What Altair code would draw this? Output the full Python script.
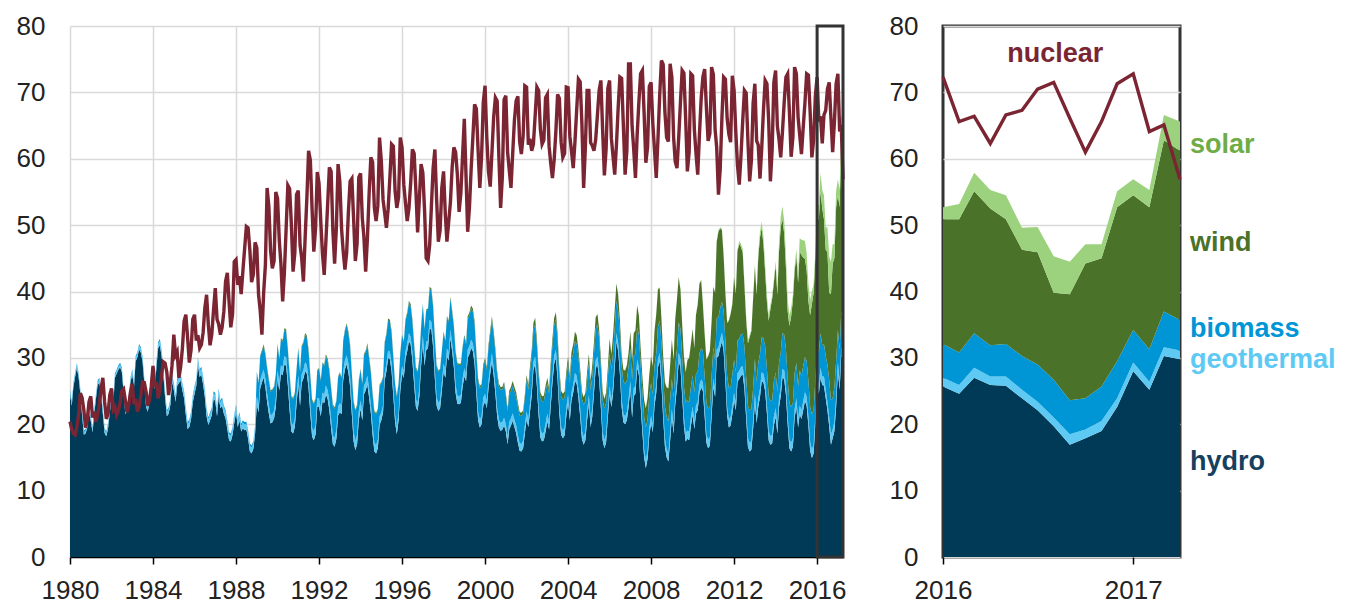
import altair as alt
import pandas as pd

# ---------------- data (monthly, billion kWh) ----------------
years = list(range(1980, 2018))

hydro = [
    [24.5,22.8,25.6,27.2,28.5,27.0,24.6,21.3,18.4,18.6,19.5,21.8],  # 1980
    [20.5,18.8,21.4,23.8,25.9,26.3,24.5,21.6,18.7,18.2,19.4,21.7],
    [23.9,23.1,27.0,27.6,28.2,28.6,27.9,24.8,21.5,22.1,23.8,26.4],
    [27.5,25.6,29.5,30.1,31.3,30.8,29.4,26.2,22.6,21.9,23.5,27.4],
    [27.9,25.3,28.6,31.5,31.9,30.2,27.5,24.0,21.2,21.6,22.9,26.5],
    [25.2,23.4,25.8,26.2,26.6,25.1,23.9,21.4,19.3,19.6,20.8,23.3],  # 1985
    [24.6,25.8,28.9,27.1,27.5,26.0,24.1,21.2,19.9,20.6,21.4,23.8],
    [23.5,21.2,24.2,22.4,22.8,21.6,20.9,19.3,17.6,17.4,18.4,20.2],
    [21.8,19.6,20.6,18.9,19.4,19.1,19.2,17.8,15.9,15.6,16.3,18.5],
    [23.0,21.8,25.4,26.3,27.0,25.6,23.4,21.6,20.1,20.3,20.9,22.6],
    [26.8,25.1,27.6,27.4,29.0,28.8,25.9,22.1,18.9,18.6,19.6,23.0],  # 1990
    [26.0,22.8,26.2,26.9,28.0,27.6,25.4,21.6,18.1,17.6,18.5,22.6],
    [22.6,21.2,23.4,23.2,24.5,23.8,22.1,19.4,17.0,16.6,17.8,21.3],
    [21.8,21.5,26.6,28.3,29.0,27.8,25.7,21.4,17.4,16.1,17.0,20.6],
    [22.3,20.6,24.5,25.1,26.0,24.0,21.7,18.4,15.9,15.6,16.4,19.9],
    [20.6,21.8,26.6,28.0,30.0,29.8,28.0,24.2,20.3,18.5,20.6,25.0],  # 1995
    [27.6,27.0,29.8,31.0,32.5,32.0,29.6,26.0,22.6,22.0,24.2,28.8],
    [32.1,28.8,31.2,31.4,34.5,34.2,31.6,26.8,22.8,22.0,22.4,25.0],
    [27.9,27.0,30.2,29.6,33.0,31.0,28.6,24.7,23.1,23.0,23.2,25.6],
    [27.2,26.5,30.0,30.6,31.5,31.0,29.0,24.6,20.6,19.5,20.0,22.8],
    [23.4,22.4,25.3,27.6,29.5,27.3,24.6,21.2,19.5,19.0,19.2,19.8],  # 2000
    [18.9,17.0,19.2,19.8,20.5,19.6,18.7,17.2,16.0,15.9,16.4,18.6],
    [20.7,19.6,21.8,24.3,28.2,29.0,25.8,21.3,18.0,17.4,17.6,18.9],
    [20.4,19.2,22.6,26.2,29.1,30.0,26.7,21.6,18.4,17.9,18.3,21.2],
    [23.2,20.6,23.6,24.8,26.5,26.1,24.0,21.2,17.8,16.9,17.6,20.6],
    [23.2,19.6,21.1,24.7,28.4,29.0,26.8,22.4,17.6,16.4,17.3,21.0],  # 2005
    [24.5,22.6,24.5,28.4,32.5,31.0,27.6,22.6,20.3,20.0,20.6,22.6],
    [25.3,21.0,24.2,24.6,28.5,27.4,22.9,18.8,15.0,13.4,14.8,18.3],
    [20.1,18.8,22.7,24.7,28.6,29.5,26.1,20.9,16.6,15.0,14.4,17.5],
    [21.0,18.6,22.9,25.6,29.5,28.6,24.3,19.8,17.4,17.8,17.6,19.7],
    [21.4,19.3,21.6,22.1,24.7,25.5,25.0,21.2,17.2,16.4,16.8,21.2],  # 2010
    [25.6,24.1,30.0,30.3,31.5,32.5,31.0,26.5,21.3,19.5,19.8,21.5],
    [23.5,22.1,26.4,26.8,27.3,27.5,25.4,20.8,16.6,15.9,16.2,19.3],
    [23.2,20.2,22.6,24.1,26.5,26.3,25.0,21.6,17.6,16.9,17.1,19.8],
    [21.1,18.6,22.5,24.2,27.0,26.8,24.5,20.0,16.4,15.9,16.6,20.9],
    [22.6,19.5,21.5,20.8,22.1,23.5,22.8,19.8,16.0,14.9,15.6,20.0],  # 2015
    [25.7,24.6,27.0,25.9,25.8,23.9,22.1,19.7,16.9,17.9,19.0,22.6],
    [28.0,25.2,30.3,29.8],                                          # 2017
]

geothermal = [
    [0.42,0.38,0.42,0.41,0.43,0.42,0.44,0.44,0.42,0.43,0.41,0.43],  # 1980
    [0.46,0.41,0.45,0.44,0.46,0.45,0.47,0.47,0.45,0.46,0.44,0.46],
    [0.38,0.35,0.39,0.37,0.40,0.39,0.41,0.41,0.39,0.40,0.38,0.40],
    [0.52,0.47,0.52,0.50,0.53,0.52,0.54,0.54,0.52,0.53,0.51,0.53],
    [0.63,0.58,0.63,0.61,0.65,0.63,0.66,0.66,0.63,0.64,0.62,0.64],
    [0.75,0.68,0.75,0.73,0.77,0.75,0.78,0.78,0.75,0.76,0.74,0.76],  # 1985
    [0.85,0.77,0.85,0.83,0.87,0.85,0.88,0.88,0.85,0.86,0.84,0.86],
    [0.88,0.80,0.88,0.86,0.90,0.88,0.91,0.91,0.88,0.89,0.87,0.89],
    [0.86,0.80,0.86,0.84,0.88,0.86,0.89,0.89,0.86,0.87,0.85,0.87],
    [1.22,1.10,1.22,1.18,1.23,1.21,1.25,1.25,1.21,1.22,1.19,1.23],
    [1.28,1.16,1.28,1.24,1.29,1.27,1.31,1.31,1.27,1.28,1.25,1.29],  # 1990
    [1.33,1.21,1.33,1.29,1.34,1.32,1.36,1.36,1.32,1.33,1.30,1.34],
    [1.34,1.22,1.34,1.30,1.35,1.33,1.37,1.37,1.33,1.34,1.31,1.35],
    [1.40,1.27,1.40,1.36,1.41,1.39,1.43,1.43,1.39,1.40,1.37,1.41],
    [1.29,1.17,1.29,1.25,1.30,1.28,1.32,1.32,1.28,1.29,1.26,1.30],
    [1.12,1.02,1.12,1.09,1.13,1.11,1.14,1.14,1.11,1.12,1.10,1.13],  # 1995
    [1.19,1.08,1.19,1.16,1.20,1.18,1.22,1.22,1.18,1.19,1.17,1.20],
    [1.22,1.11,1.22,1.19,1.23,1.21,1.25,1.25,1.21,1.22,1.20,1.23],
    [1.23,1.12,1.23,1.20,1.24,1.22,1.26,1.26,1.22,1.23,1.21,1.24],
    [1.23,1.12,1.23,1.20,1.24,1.22,1.26,1.26,1.22,1.23,1.21,1.24],
    [1.18,1.07,1.18,1.15,1.19,1.17,1.20,1.20,1.17,1.18,1.16,1.19],  # 2000
    [1.14,1.04,1.14,1.11,1.15,1.13,1.16,1.16,1.13,1.14,1.12,1.15],
    [1.21,1.10,1.21,1.18,1.22,1.20,1.24,1.24,1.20,1.21,1.19,1.22],
    [1.20,1.09,1.20,1.17,1.21,1.19,1.23,1.23,1.19,1.20,1.18,1.21],
    [1.23,1.12,1.23,1.20,1.24,1.22,1.26,1.26,1.22,1.23,1.21,1.24],
    [1.22,1.11,1.22,1.19,1.23,1.21,1.25,1.25,1.21,1.22,1.20,1.23],  # 2005
    [1.21,1.10,1.21,1.18,1.22,1.20,1.24,1.24,1.20,1.21,1.19,1.22],
    [1.21,1.10,1.21,1.18,1.22,1.20,1.24,1.24,1.20,1.21,1.19,1.22],
    [1.23,1.12,1.23,1.20,1.24,1.22,1.26,1.26,1.22,1.23,1.21,1.24],
    [1.25,1.13,1.25,1.22,1.26,1.24,1.28,1.28,1.24,1.25,1.23,1.26],
    [1.26,1.14,1.26,1.23,1.27,1.25,1.29,1.29,1.25,1.26,1.24,1.27],  # 2010
    [1.28,1.16,1.28,1.25,1.29,1.27,1.31,1.31,1.27,1.28,1.26,1.29],
    [1.30,1.18,1.30,1.27,1.31,1.29,1.33,1.33,1.29,1.30,1.28,1.31],
    [1.32,1.20,1.32,1.29,1.33,1.31,1.35,1.35,1.31,1.32,1.30,1.33],
    [1.33,1.21,1.33,1.30,1.34,1.32,1.36,1.36,1.32,1.33,1.31,1.34],
    [1.33,1.21,1.33,1.30,1.34,1.32,1.36,1.36,1.32,1.33,1.31,1.34],  # 2015
    [1.3,1.3,1.5,1.3,1.4,1.3,1.3,1.3,1.6,1.3,1.5,1.3],
    [1.3,1.2,1.3,1.3],
]

biomass = [
    [0.25,0.23,0.25,0.24,0.25,0.25,0.26,0.26,0.25,0.25,0.24,0.25],  # 1980
    [0.25,0.23,0.25,0.24,0.25,0.25,0.26,0.26,0.25,0.25,0.24,0.25],
    [0.26,0.24,0.26,0.25,0.26,0.26,0.27,0.27,0.26,0.26,0.25,0.26],
    [0.27,0.25,0.27,0.26,0.27,0.27,0.28,0.28,0.27,0.27,0.26,0.27],
    [0.28,0.26,0.28,0.27,0.28,0.28,0.29,0.29,0.28,0.28,0.27,0.28],
    [0.30,0.27,0.30,0.29,0.30,0.30,0.31,0.31,0.30,0.30,0.29,0.30],  # 1985
    [0.31,0.28,0.31,0.30,0.31,0.31,0.32,0.32,0.31,0.31,0.30,0.31],
    [0.32,0.29,0.32,0.31,0.32,0.32,0.33,0.33,0.32,0.32,0.31,0.32],
    [0.33,0.30,0.33,0.32,0.33,0.33,0.34,0.34,0.33,0.33,0.32,0.33],
    [3.6,3.3,3.6,3.5,3.6,3.6,3.7,3.7,3.6,3.6,3.5,3.6],
    [3.9,3.6,3.9,3.8,3.9,3.9,4.0,4.0,3.9,3.9,3.8,3.9],  # 1990
    [4.1,3.8,4.1,4.0,4.1,4.1,4.2,4.2,4.1,4.1,4.0,4.1],
    [4.4,4.1,4.4,4.3,4.4,4.4,4.5,4.5,4.4,4.4,4.3,4.4],
    [4.5,4.2,4.5,4.4,4.5,4.5,4.6,4.6,4.5,4.5,4.4,4.5],
    [4.6,4.3,4.6,4.5,4.6,4.6,4.7,4.7,4.6,4.6,4.5,4.6],
    [4.5,4.2,4.5,4.4,4.5,4.5,4.6,4.6,4.5,4.5,4.4,4.5],  # 1995
    [4.6,4.3,4.6,4.5,4.6,4.6,4.7,4.7,4.6,4.6,4.5,4.6],
    [4.7,4.4,4.7,4.6,4.7,4.7,4.8,4.8,4.7,4.7,4.6,4.7],
    [4.7,4.4,4.7,4.6,4.7,4.7,4.8,4.8,4.7,4.7,4.6,4.7],
    [4.7,4.4,4.7,4.6,4.7,4.7,4.8,4.8,4.7,4.7,4.6,4.7],
    [5.0,4.7,5.0,4.9,5.0,5.0,5.1,5.1,5.0,5.0,4.9,5.0],  # 2000
    [4.2,3.9,4.2,4.1,4.2,4.2,4.3,4.3,4.2,4.2,4.1,4.2],
    [4.8,4.5,4.8,4.7,4.8,4.8,4.9,4.9,4.8,4.8,4.7,4.8],
    [4.6,4.3,4.6,4.5,4.6,4.6,4.7,4.7,4.6,4.6,4.5,4.6],
    [4.8,4.5,4.8,4.7,4.8,4.8,4.9,4.9,4.8,4.8,4.7,4.8],
    [4.8,4.5,4.8,4.7,4.8,4.8,4.9,4.9,4.8,4.8,4.7,4.8],  # 2005
    [4.9,4.6,4.9,4.8,4.9,4.9,5.0,5.0,4.9,4.9,4.8,4.9],
    [4.9,4.6,4.9,4.8,4.9,4.9,5.0,5.0,4.9,4.9,4.8,4.9],
    [4.9,4.6,4.9,4.8,4.9,4.9,5.0,5.0,4.9,4.9,4.8,4.9],
    [4.6,4.3,4.6,4.5,4.6,4.6,4.7,4.7,4.6,4.6,4.5,4.6],
    [4.7,4.4,4.7,4.6,4.7,4.7,4.8,4.8,4.7,4.7,4.6,4.7],  # 2010
    [4.7,4.4,4.7,4.6,4.7,4.7,4.8,4.8,4.7,4.7,4.6,4.7],
    [4.9,4.6,4.9,4.8,4.9,4.9,5.0,5.0,4.9,4.9,4.8,4.9],
    [5.3,5.0,5.3,5.2,5.3,5.3,5.4,5.4,5.3,5.3,5.2,5.3],
    [5.4,5.1,5.4,5.3,5.4,5.4,5.5,5.5,5.4,5.4,5.3,5.4],
    [5.3,5.0,5.3,5.2,5.3,5.3,5.4,5.4,5.3,5.3,5.2,5.3],  # 2015
    [5.1,4.9,5.2,4.7,4.9,5.1,5.6,5.7,5.1,4.7,5.2,5.6],
    [4.9,4.9,5.4,4.6],
]

wind = [
    [0,0,0,0,0,0,0,0,0,0,0,0],  # 1980
    [0,0,0,0,0,0,0,0,0,0,0,0],
    [0,0,0,0,0,0,0,0,0,0,0,0],
    [0,0,0,0,0,0,0,0,0,0,0,0],
    [0,0,0,0,0,0,0,0,0,0,0,0],
    [0,0,0,0,0,0,0,0,0,0,0,0],  # 1985
    [0,0,0,0,0,0,0,0,0,0,0,0],
    [0,0,0,0,0,0,0,0,0,0,0,0],
    [0,0,0,0,0,0,0,0,0,0,0,0],
    [0.12,0.11,0.15,0.19,0.24,0.27,0.28,0.25,0.20,0.16,0.13,0.12],
    [0.14,0.13,0.17,0.22,0.28,0.32,0.33,0.29,0.23,0.18,0.15,0.14],  # 1990
    [0.15,0.14,0.18,0.23,0.29,0.33,0.34,0.30,0.24,0.19,0.16,0.15],
    [0.14,0.13,0.17,0.22,0.28,0.32,0.33,0.29,0.23,0.18,0.15,0.14],
    [0.14,0.13,0.17,0.22,0.27,0.31,0.32,0.28,0.22,0.18,0.15,0.14],
    [0.16,0.15,0.19,0.24,0.30,0.34,0.35,0.31,0.25,0.20,0.17,0.16],
    [0.15,0.14,0.18,0.23,0.29,0.33,0.34,0.30,0.24,0.19,0.16,0.15],  # 1995
    [0.15,0.14,0.18,0.23,0.28,0.32,0.33,0.29,0.23,0.19,0.16,0.15],
    [0.15,0.14,0.18,0.23,0.28,0.32,0.33,0.29,0.23,0.19,0.16,0.15],
    [0.14,0.13,0.17,0.22,0.27,0.31,0.32,0.28,0.22,0.18,0.15,0.14],
    [0.30,0.28,0.35,0.42,0.45,0.48,0.46,0.40,0.34,0.32,0.30,0.32],
    [0.40,0.38,0.45,0.52,0.55,0.58,0.56,0.50,0.42,0.40,0.38,0.42],  # 2000
    [0.45,0.42,0.52,0.62,0.68,0.70,0.66,0.58,0.50,0.48,0.46,0.50],
    [0.72,0.70,0.85,0.98,1.02,1.05,0.95,0.85,0.78,0.80,0.82,0.88],
    [0.80,0.78,0.92,1.05,1.10,1.08,0.98,0.90,0.85,0.88,0.90,0.95],
    [1.00,1.00,1.20,1.35,1.40,1.30,1.15,1.05,1.10,1.15,1.20,1.20],
    [1.4,1.3,1.7,1.8,1.7,1.6,1.4,1.2,1.3,1.4,1.6,1.5],  # 2005
    [2.3,2.2,2.6,2.9,2.6,2.4,1.9,1.6,1.8,2.0,2.3,2.1],
    [2.6,2.8,3.4,3.6,3.3,2.9,2.4,2.2,2.5,2.9,3.2,3.1],
    [4.0,4.2,5.2,5.9,5.6,4.9,3.6,3.2,3.6,4.4,5.0,5.2],
    [5.9,5.7,7.1,7.5,6.8,5.9,4.9,4.4,4.6,6.0,6.7,6.5],
    [7.0,6.6,8.9,10.1,10.5,10.2,7.0,6.3,6.6,7.9,8.4,8.3],  # 2010
    [9.1,10.2,11.5,12.9,12.0,10.8,8.3,7.2,8.0,10.1,11.0,10.6],
    [12.4,11.8,13.5,14.3,13.2,12.2,9.2,8.6,9.4,11.0,11.8,13.4],
    [13.9,13.2,15.8,17.6,16.4,14.2,11.2,10.1,11.4,13.8,15.3,14.9],
    [16.1,14.6,16.7,18.9,17.2,15.2,12.4,10.2,11.7,13.6,15.4,15.4],
    [16.1,15.6,17.9,18.2,16.4,14.8,13.6,12.0,13.8,16.6,17.7,18.4],  # 2015
    [18.8,20.1,21.4,20.6,18.8,16.0,16.9,13.1,16.0,20.3,19.3,23.2],
    [20.3,21.4,25.8,25.5],
]

solar = [
    [0,0,0,0,0,0,0,0,0,0,0,0],  # 1980
    [0,0,0,0,0,0,0,0,0,0,0,0],
    [0,0,0,0,0,0,0,0,0,0,0,0],
    [0,0,0,0,0,0,0,0,0,0,0,0],
    [0,0,0,0,0,0,0,0,0,0,0,0],
    [0,0,0,0,0,0,0,0,0,0,0,0],  # 1985
    [0,0,0,0,0,0,0,0,0,0,0,0],
    [0,0,0,0,0,0,0,0,0,0,0,0],
    [0,0,0,0,0,0,0,0,0,0,0,0],
    [0,0,0,0,0,0,0,0,0,0,0,0],
    [0.02,0.02,0.03,0.04,0.05,0.05,0.05,0.05,0.04,0.03,0.02,0.02],  # 1990
    [0.02,0.02,0.03,0.04,0.05,0.05,0.05,0.05,0.04,0.03,0.02,0.02],
    [0.02,0.02,0.03,0.04,0.05,0.05,0.05,0.05,0.04,0.03,0.02,0.02],
    [0.02,0.02,0.03,0.04,0.05,0.05,0.05,0.05,0.04,0.03,0.02,0.02],
    [0.02,0.02,0.03,0.04,0.05,0.05,0.05,0.05,0.04,0.03,0.02,0.02],
    [0.02,0.02,0.03,0.04,0.05,0.05,0.05,0.05,0.04,0.03,0.02,0.02],  # 1995
    [0.02,0.02,0.03,0.04,0.05,0.05,0.05,0.05,0.04,0.03,0.02,0.02],
    [0.02,0.02,0.03,0.04,0.05,0.05,0.05,0.05,0.04,0.03,0.02,0.02],
    [0.02,0.02,0.03,0.04,0.05,0.05,0.05,0.05,0.04,0.03,0.02,0.02],
    [0.02,0.02,0.03,0.04,0.05,0.05,0.05,0.05,0.04,0.03,0.02,0.02],
    [0.02,0.02,0.03,0.04,0.05,0.05,0.05,0.05,0.04,0.03,0.02,0.02],  # 2000
    [0.02,0.02,0.03,0.04,0.05,0.05,0.05,0.05,0.04,0.03,0.02,0.02],
    [0.02,0.02,0.03,0.04,0.05,0.05,0.05,0.05,0.04,0.03,0.02,0.02],
    [0.02,0.02,0.03,0.04,0.05,0.05,0.05,0.05,0.04,0.03,0.02,0.02],
    [0.02,0.02,0.03,0.04,0.05,0.05,0.05,0.05,0.04,0.03,0.02,0.02],
    [0.02,0.02,0.03,0.04,0.05,0.05,0.05,0.05,0.04,0.03,0.02,0.02],  # 2005
    [0.02,0.02,0.03,0.04,0.05,0.05,0.05,0.05,0.04,0.03,0.02,0.02],
    [0.02,0.02,0.03,0.04,0.05,0.05,0.05,0.05,0.04,0.03,0.02,0.02],
    [0.04,0.05,0.07,0.09,0.10,0.11,0.11,0.10,0.09,0.07,0.05,0.04],
    [0.05,0.06,0.08,0.10,0.12,0.13,0.13,0.12,0.10,0.08,0.06,0.05],
    [0.06,0.07,0.10,0.12,0.14,0.15,0.14,0.14,0.12,0.10,0.07,0.06],  # 2010
    [0.08,0.10,0.14,0.17,0.20,0.22,0.21,0.20,0.17,0.14,0.10,0.08],
    [0.15,0.20,0.30,0.40,0.50,0.50,0.50,0.50,0.45,0.35,0.20,0.18],
    [0.35,0.45,0.70,0.85,1.00,1.10,1.05,1.00,0.85,0.70,0.45,0.40],
    [0.7,0.9,1.3,1.6,1.9,2.0,1.9,1.9,1.6,1.3,0.9,0.7],
    [1.1,1.4,2.0,2.3,2.6,2.7,2.6,2.6,2.3,1.9,1.3,1.1],  # 2015
    [1.8,2.3,2.8,2.8,3.6,3.3,3.8,5.5,4.9,2.9,2.1,2.4],
    [2.4,2.6,3.8,4.4],
]

nuclear = [
    [20.4,19.2,18.6,18.4,19.6,21.5,24.7,24.0,22.1,19.5,20.8,23.4],  # 1980
    [24.2,21.0,21.9,20.4,21.5,23.0,25.3,27.0,23.4,20.8,21.6,24.4],
    [25.4,22.2,22.6,21.4,22.0,23.3,25.0,25.3,23.6,21.8,22.9,24.9],
    [26.1,23.0,23.8,21.9,22.6,24.3,26.4,26.3,24.9,22.8,23.6,25.7],
    [28.8,25.6,26.4,23.9,25.1,27.5,29.4,29.2,27.8,24.4,26.3,28.9],
    [33.5,30.4,30.9,27.0,28.6,31.4,35.5,36.5,33.0,29.3,31.2,35.8],  # 1985
    [36.5,32.6,33.4,31.5,32.0,33.8,37.5,39.5,35.0,31.9,33.6,37.2],
    [40.5,35.8,35.1,33.5,34.6,37.0,41.5,42.8,38.4,34.6,36.6,44.5],
    [44.8,41.0,42.3,39.6,43.1,46.5,49.8,49.6,46.2,41.4,42.6,47.4],
    [46.6,39.5,37.2,33.5,39.8,44.0,55.6,52.8,46.1,43.5,44.6,55.0],
    [54.0,47.6,44.2,38.5,42.8,49.5,56.0,55.5,50.2,43.0,45.8,54.6],  # 1990
    [55.2,47.0,45.1,41.5,48.0,54.1,61.2,59.8,52.4,46.0,49.5,58.0],
    [56.3,50.5,45.8,42.5,47.6,53.2,58.7,58.1,49.1,44.2,49.6,59.2],
    [56.6,49.4,46.1,43.3,45.8,52.0,56.6,57.0,50.9,44.6,47.2,57.2],
    [57.8,51.0,48.2,43.0,47.9,54.8,60.2,59.5,52.6,50.6,52.9,63.2],
    [59.7,53.8,51.9,49.6,52.4,57.2,62.2,61.9,55.1,52.6,54.2,63.2],  # 1995
    [61.7,56.1,53.4,50.6,52.5,56.4,61.4,60.8,55.2,48.9,54.0,59.2],
    [57.9,52.1,45.0,44.6,47.0,52.9,58.6,61.4,53.8,47.5,49.2,55.6],
    [58.1,51.6,47.5,50.5,53.4,58.7,61.7,61.0,57.6,52.0,54.8,60.4],
    [66.0,57.2,49.0,52.6,58.4,63.3,68.2,67.5,61.2,55.6,60.4,68.5],
    [71.0,63.2,58.1,55.8,60.9,66.3,69.2,68.7,60.2,52.6,57.4,68.9],  # 2000
    [69.5,61.0,58.4,55.6,60.7,65.8,68.7,69.4,62.6,60.7,63.4,71.0],
    [70.8,62.1,63.0,61.2,62.2,66.5,70.8,70.3,64.4,62.2,62.8,69.2],
    [69.7,61.9,59.4,57.1,59.8,64.2,69.7,69.1,62.5,60.2,60.8,70.8],
    [70.7,63.4,61.2,58.6,62.5,67.4,72.0,71.6,65.2,55.6,61.8,70.3],
    [70.3,62.4,62.0,61.2,62.9,66.6,70.3,71.8,64.2,57.5,61.5,70.6],  # 2005
    [71.8,63.1,60.5,57.6,62.0,67.7,72.3,72.1,64.9,57.6,61.2,74.3],
    [74.3,64.9,61.5,57.1,63.6,68.6,72.8,73.3,66.8,59.4,61.8,70.9],
    [71.5,65.3,61.4,57.1,62.9,69.6,74.8,74.2,67.0,63.2,62.6,74.3],
    [72.3,63.2,59.6,58.6,63.1,68.5,73.3,72.9,66.0,58.1,61.0,72.8],
    [72.5,64.4,60.9,57.6,63.6,69.1,72.3,73.5,67.7,62.7,63.8,73.8],  # 2010
    [72.7,64.4,61.7,54.6,58.3,66.2,72.3,72.0,66.1,63.7,62.5,72.5],
    [70.3,63.9,59.0,56.1,60.4,65.7,70.3,69.9,62.6,56.6,59.8,68.4],
    [71.3,62.7,62.1,57.0,61.5,67.3,71.8,71.3,65.7,56.6,61.4,71.5],
    [73.3,64.9,63.0,60.2,64.0,68.5,72.3,72.8,67.0,60.3,63.2,73.8],
    [72.8,66.2,63.6,60.7,64.6,68.4,72.8,72.6,67.0,60.2,62.8,69.4],  # 2015
    [72.3,65.6,66.4,62.3,66.6,67.3,70.5,71.5,66.1,61.0,65.6,71.3],
    [72.8,64.1,65.1,56.9],
]

sources = ["hydro", "geothermal", "biomass", "wind", "solar"]
area_colors = ["#003a56", "#5ec9f3", "#0096d6", "#4a7229", "#9cd27d"]
nuclear_color = "#7b2533"

label_names = ["solar", "wind", "biomass", "geothermal", "hydro"]
label_colors = ["#6fac45", "#4a7229", "#0096d6", "#5ec9f3", "#15405e"]
label_values = [62.0, 47.3, 34.3, 29.7, 14.3]

# ---------------- build tables ----------------
series_rows = {"hydro": hydro, "geothermal": geothermal, "biomass": biomass,
               "wind": wind, "solar": solar}

recs = []
nrecs = []
for yi, y in enumerate(years):
    for m, v in enumerate(nuclear[yi]):
        d = f"{y}-{m + 1:02d}-01"
        nrecs.append({"date": d, "value": v})
        for k, s in enumerate(sources):
            recs.append({"date": d, "source": s, "k": k, "value": series_rows[s][yi][m]})

df = pd.DataFrame(recs)
ndf = pd.DataFrame(nrecs)
df_r = df[df["date"] >= "2016-01-01"]
ndf_r = ndf[ndf["date"] >= "2016-01-01"]

last_date = ndf["date"].iloc[-1]
box_df = pd.DataFrame([{"start": "2016-01-01", "end": last_date, "top": 80, "bottom": 0}])
lab_df = pd.DataFrame({"name": label_names, "value": label_values, "date": [last_date] * 5})
nuc_lab_df = pd.DataFrame([{"name": "nuclear", "value": 75.8, "date": "2016-08-04"}])

FONT = "Liberation Sans"
W_L, W_R, H = 773, 237, 531

def dt(y, m=1):
    return alt.DateTime(year=y, month=m, date=1, utc=True)

y_scale = alt.Scale(domain=[0, 80], nice=False)
y_axis = alt.Axis(values=list(range(0, 81, 10)), domain=False, ticks=False,
                  labelPadding=25, grid=True, title=None)

# ---------------- left panel ----------------
xl = alt.X("date:T", title=None,
           scale=alt.Scale(type="utc", domain=[dt(1980), dt(2017, 4)]),
           axis=alt.Axis(values=[dt(y) for y in range(1980, 2017, 4)],
                         labelExpr="utcFormat(datum.value, '%Y')",
                         labelFlush=False, labelOverlap=False, labelAlign="center",
                         grid=True, domain=True, domainColor="#000", domainWidth=1.5,
                         ticks=True, tickColor="#000", tickSize=7, tickWidth=1.5,
                         labelPadding=13))

areas_l = alt.Chart(df).mark_area(interpolate="linear").encode(
    x=xl,
    y=alt.Y("value:Q", stack="zero", scale=y_scale, axis=y_axis),
    color=alt.Color("source:N", scale=alt.Scale(domain=sources, range=area_colors), legend=None),
    order=alt.Order("k:Q", sort="ascending"),
)
nuc_l = alt.Chart(ndf).mark_line(color=nuclear_color, strokeWidth=3.4).encode(
    x=alt.X("date:T"), y=alt.Y("value:Q"))
box = alt.Chart(box_df).mark_rect(filled=False, stroke="#333333", strokeWidth=3).encode(
    x=alt.X("start:T"), x2="end:T", y=alt.Y("top:Q"), y2="bottom:Q")

left = alt.layer(areas_l, nuc_l, box).properties(width=W_L, height=H)

# ---------------- right panel ----------------
xr = alt.X("date:T", title=None,
           scale=alt.Scale(type="utc", domain=[dt(2016), dt(2017, 4)]),
           axis=alt.Axis(values=[dt(2016), dt(2017)],
                         labelExpr="utcFormat(datum.value, '%Y')",
                         labelFlush=False, labelOverlap=False, labelAlign="center",
                         grid=False, domain=False,
                         ticks=True, tickColor="#000", tickSize=7, tickWidth=1.5,
                         labelPadding=13))

areas_r = alt.Chart(df_r).mark_area(interpolate="linear").encode(
    x=xr,
    y=alt.Y("value:Q", stack="zero", scale=y_scale, axis=y_axis),
    color=alt.Color("source:N", scale=alt.Scale(domain=sources, range=area_colors), legend=None),
    order=alt.Order("k:Q", sort="ascending"),
)
nuc_r = alt.Chart(ndf_r).mark_line(color=nuclear_color, strokeWidth=3.4).encode(
    x=alt.X("date:T"), y=alt.Y("value:Q"))
labels = alt.Chart(lab_df).mark_text(align="left", baseline="middle", dx=10,
                                     font=FONT, fontSize=27, fontWeight="bold").encode(
    x=alt.X("date:T"), y=alt.Y("value:Q"), text="name:N",
    color=alt.Color("name:N", scale=alt.Scale(domain=label_names, range=label_colors), legend=None),
)
nuc_label = alt.Chart(nuc_lab_df).mark_text(align="center", baseline="middle",
                                            font=FONT, fontSize=27, fontWeight="bold",
                                            color=nuclear_color).encode(
    x=alt.X("date:T"), y=alt.Y("value:Q"), text="name:N")

right = alt.layer(areas_r, nuc_r, labels, nuc_label).properties(
    width=W_R, height=H,
    view=alt.ViewBackground(stroke="#333333", strokeWidth=3),
).resolve_scale(color="independent")

chart = alt.hconcat(left, right, spacing=100, bounds="flush").properties(
    padding={"left": 8, "top": 3, "right": 0, "bottom": 5}
).configure_axis(
    labelFont=FONT, labelFontSize=26, labelColor="#222222",
    gridColor="#d9d9d9", gridWidth=1.5,
).configure_view(stroke=None)

chart.save("out.html", embed_options={"renderer": "svg", "actions": False})
